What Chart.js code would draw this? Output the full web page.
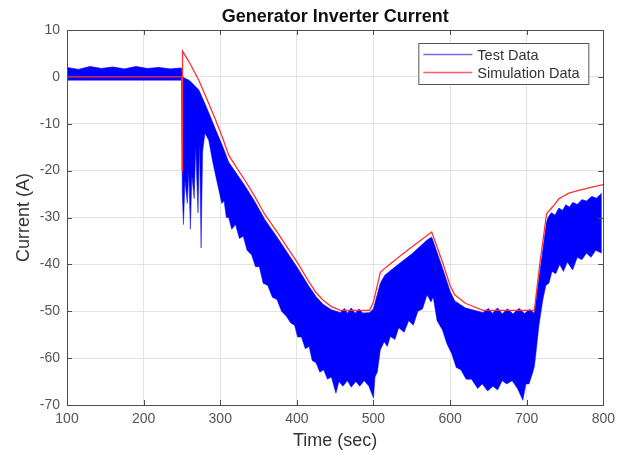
<!DOCTYPE html>
<html lang="en">
<head>
  <meta charset="UTF-8" />
  <title>Generator Inverter Current</title>
  <script src="https://cdn.jsdelivr.net/npm/chart.js"></script>
  <style>
    body { margin: 0; background: #fff; }
    canvas { display: block; }
  </style>
</head>
<body>
  <canvas id="currentChart" width="621" height="453"></canvas>

  <script>
    // simulation curve (red)
    const simTime    = [100, 250, 250.3, 250.8, 260, 272, 282, 294, 303, 311, 322, 332, 345, 358, 375, 390, 401, 415, 425, 434, 445, 457, 495, 500, 509, 515, 531, 550, 576, 590, 600, 606, 620, 643, 710, 717, 726, 735, 742, 755, 768, 785, 800];
    const simCurrent = [0, 0, -20, 5.5, 3, -0.7, -4.5, -9.2, -13, -16.7, -19.5, -22, -25.5, -29.3, -33.3, -37, -39.7, -43.5, -46, -47.6, -49, -49.8, -49.8, -48, -41.7, -40.8, -38.7, -36.3, -33.1, -39.5, -44.5, -46.5, -48.3, -49.8, -49.8, -40, -29.2, -27.5, -26, -24.8, -24.2, -23.5, -23];

    // test data band: upper edge
    const testTimeHi = [100, 115, 130, 145, 160, 175, 190, 205, 220, 235, 249.5, 250.5, 260, 272, 282, 294, 303, 311, 322, 332, 345, 358, 375, 390, 401, 415, 425, 434, 445, 457, 462, 466, 471, 476, 481, 486, 495, 500, 509, 515, 531, 550, 570, 576, 590, 600, 606, 620, 643, 650, 655, 662, 668, 675, 682, 690, 697, 704, 710, 717, 726, 728, 732, 737, 742, 747, 751, 756, 760, 766, 772, 778, 785, 791, 798];
    const testHi     = [2, 1.6, 2.2, 1.8, 2.1, 1.7, 2.2, 1.8, 2.0, 1.7, 1.9, 0, -0.8, -2.8, -6.5, -11.3, -14.8, -18.2, -20.8, -23.2, -26.6, -30.4, -34.4, -38.1, -40.8, -44.5, -46.9, -48.5, -49.7, -50.3, -49.4, -50.5, -49.3, -50.5, -49.5, -50.4, -50.3, -49.5, -44, -42.3, -40.2, -37.8, -34.8, -34.2, -40.8, -45.8, -47.8, -49.3, -50.3, -49.4, -50.5, -49.3, -50.6, -49.5, -50.6, -49.4, -50.5, -49.6, -50.5, -42, -31, -30, -29, -29.5, -28, -28.5, -27.3, -27.8, -26.8, -27.2, -26.2, -26.5, -25.5, -25.9, -24.8];

    // test data band: lower edge
    const testTimeLo = [100, 249.5, 250.5, 252, 254, 257, 259, 261, 263, 266, 268, 271, 273, 275, 277, 280, 285, 290, 298, 302, 305, 308, 311, 315, 320, 325, 330, 335, 341, 346, 351, 356, 362, 368, 374, 380, 386, 392, 397, 401, 406, 411, 416, 420, 425, 430, 435, 440, 445, 451, 455, 460, 466, 471, 477, 482, 488, 494, 500, 502, 505, 509, 514, 518, 522, 528, 533, 540, 546, 552, 558, 564, 570, 575, 578, 583, 590, 596, 602, 608, 614, 621, 628, 636, 642, 649, 656, 662, 668, 674, 681, 688, 695, 699, 703, 708, 710, 712, 716, 721, 725, 729, 733, 738, 743, 748, 753, 760, 766, 772, 778, 784, 790, 798];
    const testLo     = [-0.7, -0.7, -25, -31.5, -22, -27, -20, -32.5, -21, -26, -15, -29, -14, -36.5, -16, -12, -13.5, -18, -24, -27, -26.5, -30, -30, -32.5, -31.5, -34.5, -34, -37, -38, -40.5, -40.5, -44, -44.5, -47, -47.5, -50, -51, -52.5, -53, -55.5, -55.5, -58, -57.5, -60.5, -61, -63, -62.5, -64.5, -64, -67.5, -65, -66, -64.8, -66.2, -65, -66, -64.8, -66, -68.5, -64, -63, -58.2, -56.5, -57.5, -55.4, -56, -53.5, -54.5, -52, -53, -50, -49.5, -46.5, -48, -47, -52, -54, -57, -59, -62, -62.5, -64.5, -64.5, -66.5, -65.5, -67, -66, -66.8, -64.8, -65.5, -64.8, -66.5, -69, -65.5, -65.5, -63, -61.8, -59, -53, -47.6, -44.5, -44, -41.5, -42, -40, -41.5, -39.5, -41.2, -38.5, -39, -37.6, -38.5, -37, -37.6];

    const xTicks = [100, 200, 300, 400, 500, 600, 700, 800];
    const yTicks = [10, 0, -10, -20, -30, -40, -50, -60, -70];

    const toPoints = (xs, ys) => xs.map((x, i) => ({ x: x, y: ys[i] }));

    // MATLAB style box, inward ticks, title and legend
    const matlabFrame = {
      id: 'matlabFrame',
      afterDraw(chart) {
        const { ctx, chartArea: a, scales } = chart;
        ctx.save();
        ctx.strokeStyle = '#4d4d4d';
        ctx.lineWidth = 1;
        ctx.beginPath();
        xTicks.forEach(v => {
          const px = Math.round(scales.x.getPixelForValue(v)) + 0.5;
          ctx.moveTo(px, a.bottom); ctx.lineTo(px, a.bottom - 5);
          ctx.moveTo(px, a.top); ctx.lineTo(px, a.top + 5);
        });
        yTicks.forEach(v => {
          const py = Math.round(scales.y.getPixelForValue(v)) + 0.5;
          ctx.moveTo(a.left, py); ctx.lineTo(a.left + 5, py);
          ctx.moveTo(a.right, py); ctx.lineTo(a.right - 5, py);
        });
        ctx.stroke();
        ctx.strokeRect(Math.round(a.left) + 0.5, Math.round(a.top) + 0.5,
          Math.round(a.right - a.left), Math.round(a.bottom - a.top));

        // title
        ctx.fillStyle = '#111';
        ctx.font = 'bold 18px "Liberation Sans", Arial, sans-serif';
        ctx.textAlign = 'center';
        ctx.textBaseline = 'middle';
        ctx.fillText('Generator Inverter Current', (a.left + a.right) / 2, 17);

        // legend
        const bx = a.right - 185, by = a.top + 13, bw = 170, bh = 41;
        ctx.fillStyle = '#fff';
        ctx.fillRect(bx, by, bw, bh);
        ctx.strokeStyle = '#555';
        ctx.strokeRect(bx + 0.5, by + 0.5, bw, bh);
        const items = [['Test Data', '#6f6fff'], ['Simulation Data', '#ff5a5a']];
        ctx.font = '14.5px "Liberation Sans", Arial, sans-serif';
        ctx.textAlign = 'left';
        items.forEach((it, i) => {
          const y = by + 11.5 + i * 18;
          ctx.strokeStyle = it[1];
          ctx.lineWidth = 1.5;
          ctx.beginPath();
          ctx.moveTo(bx + 5, y); ctx.lineTo(bx + 54, y);
          ctx.stroke();
          ctx.fillStyle = '#333';
          ctx.fillText(it[0], bx + 59, y + 1);
        });
        ctx.restore();
      }
    };

    const ctx = document.getElementById('currentChart').getContext('2d');
    const chart = new Chart(ctx, {
      type: 'line',
      data: {
        datasets: [
          {
            label: 'Simulation Data',
            data: toPoints(simTime, simCurrent),
            borderColor: '#ff3030',
            borderWidth: 1.3,
            pointRadius: 0,
            fill: false,
            tension: 0,
            order: 0
          },
          {
            label: 'Test Data',
            data: toPoints(testTimeHi, testHi),
            borderColor: 'rgba(0,0,255,0.75)',
            backgroundColor: '#0000ff',
            borderWidth: 1,
            pointRadius: 0,
            fill: '+1',
            tension: 0,
            order: 1
          },
          {
            label: 'Test Data (low)',
            data: toPoints(testTimeLo, testLo),
            borderColor: 'rgba(40,40,255,0.6)',
            borderWidth: 1,
            pointRadius: 0,
            fill: false,
            tension: 0,
            order: 2
          }
        ]
      },
      options: {
        responsive: false,
        animation: false,
        devicePixelRatio: 1,
        layout: { padding: { top: 30, right: 13, left: 0, bottom: 0 } },
        plugins: {
          legend: { display: false },
          title: { display: false },
          tooltip: { enabled: false }
        },
        scales: {
          x: {
            type: 'linear',
            min: 100,
            max: 800,
            afterBuildTicks: s => { s.ticks = xTicks.map(v => ({ value: v })); },
            afterFit: s => { s.height = 48; },
            grid: { color: '#e3e3e3', drawTicks: false, tickLength: 0 },
            border: { display: false },
            ticks: {
              color: '#555',
              padding: 6,
              maxRotation: 0,
              font: { family: '"Liberation Sans", Arial, sans-serif', size: 14 }
            },
            title: {
              display: true,
              text: 'Time (sec)',
              color: '#333',
              padding: { top: 0, bottom: 1 },
              font: { family: '"Liberation Sans", Arial, sans-serif', size: 18 }
            }
          },
          y: {
            min: -70,
            max: 10,
            afterBuildTicks: s => { s.ticks = yTicks.slice().reverse().map(v => ({ value: v })); },
            afterFit: s => { s.width = 67; },
            grid: { color: '#e3e3e3', drawTicks: false, tickLength: 0 },
            border: { display: false },
            ticks: {
              color: '#555',
              padding: 7,
              font: { family: '"Liberation Sans", Arial, sans-serif', size: 14 }
            },
            title: {
              display: true,
              text: 'Current (A)',
              color: '#333',
              padding: { top: 13, bottom: 0 },
              font: { family: '"Liberation Sans", Arial, sans-serif', size: 18 }
            }
          }
        }
      },
      plugins: [matlabFrame]
    });
  </script>
</body>
</html>
